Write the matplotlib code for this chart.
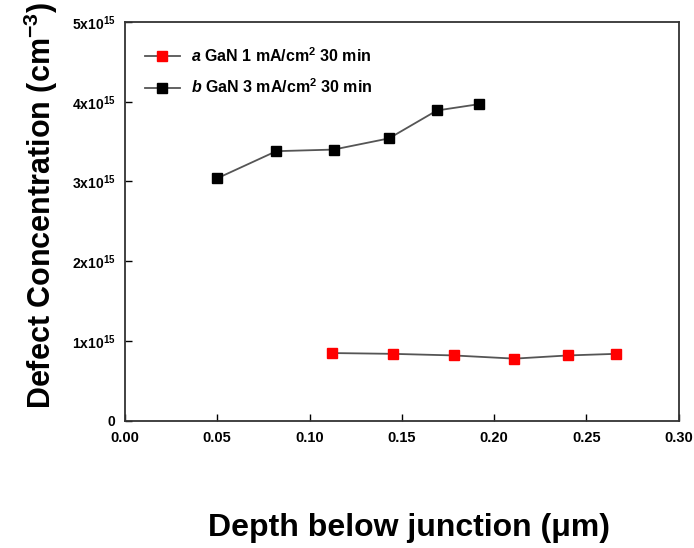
import numpy as np
import matplotlib
matplotlib.use('Agg')
import matplotlib.pyplot as plt

plt.rcParams['font.family'] = 'Liberation Sans'
plt.rcParams['font.weight'] = 'bold'
plt.rcParams['mathtext.fontset'] = 'custom'
plt.rcParams['mathtext.rm'] = 'Liberation Sans:bold'
plt.rcParams['mathtext.it'] = 'Liberation Sans:bold:italic'
plt.rcParams['mathtext.bf'] = 'Liberation Sans:bold'

# data
depth_a = [0.112, 0.145, 0.178, 0.211, 0.240, 0.266]
conc_a = [0.85e15, 0.84e15, 0.82e15, 0.78e15, 0.82e15, 0.84e15]
depth_b = [0.050, 0.082, 0.113, 0.143, 0.169, 0.192]
conc_b = [3.04e15, 3.38e15, 3.40e15, 3.54e15, 3.89e15, 3.97e15]

label_a = r'$\mathit{a}$ GaN 1 mA/cm$^2$ 30 min'
label_b = r'$\mathit{b}$ GaN 3 mA/cm$^2$ 30 min'

xticks = [0.00, 0.05, 0.10, 0.15, 0.20, 0.25, 0.30]
yticks = [0, 1e15, 2e15, 3e15, 4e15, 5e15]
ytick_labels = ['0', r'1x10$^{15}$', r'2x10$^{15}$', r'3x10$^{15}$', r'4x10$^{15}$', r'5x10$^{15}$']

fig = plt.figure(figsize=(6.94, 5.48), dpi=100)
ax = fig.add_axes([0.180, 0.232, 0.798, 0.728])

ax.plot(depth_a, conc_a, '-', color='#555555', lw=1.3, marker='s', ms=6.5,
        mfc='red', mec='red', label=label_a)
ax.plot(depth_b, conc_b, '-', color='#555555', lw=1.3, marker='s', ms=6.5,
        mfc='black', mec='black', label=label_b)

ax.set_xlim(0, 0.30)
ax.set_ylim(0, 5e15)
ax.set_xticks(xticks)
ax.set_xticklabels(['%.2f' % t for t in xticks], fontsize=10.5, fontweight='bold')
ax.set_yticks(yticks)
ax.set_yticklabels(ytick_labels, fontsize=10)
ax.tick_params(direction='in', length=5, width=1, pad=7)
for s in ax.spines.values():
    s.set_linewidth(1.3)
    s.set_color('#333333')

fig.text(0.59, 0.022, 'Depth below junction (\u03bcm)', fontsize=23, fontweight='bold',
         ha='center', va='baseline')
ax.set_ylabel(r'Defect Concentration (cm$^{-3}$)', fontsize=22, fontweight='bold')
ax.yaxis.set_label_coords(-0.118, 0.54)

ax.legend(loc='upper left', bbox_to_anchor=(0.01, 0.975), frameon=False, fontsize=11.5,
          handlelength=2.2, handletextpad=0.7, labelspacing=0.8)

fig.savefig('out.png', dpi=100)
